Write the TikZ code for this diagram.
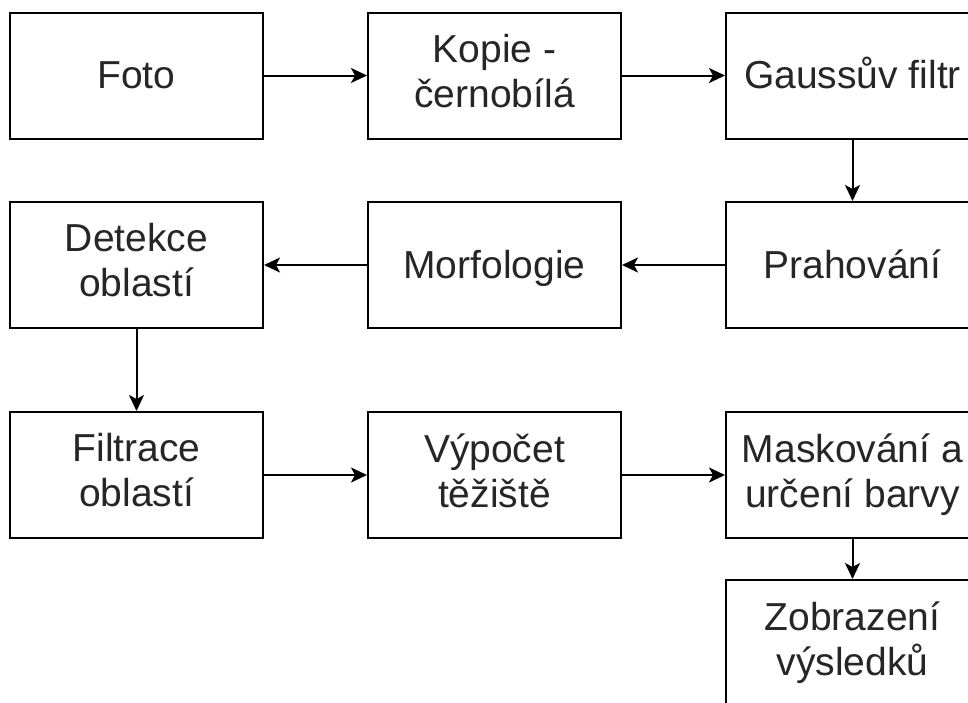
\documentclass[tikz,border=0pt]{standalone}
\usepackage{fontspec}
\setmainfont{Liberation Sans}
\usetikzlibrary{arrows.meta}
\newcommand{\mystrut}{\rule[-9.5pt]{0pt}{45pt}}
\begin{document}
\begin{tikzpicture}[x=1pt,y=-1pt,
  box/.style={draw, line width=2pt, minimum width=253pt, minimum height=126pt,
    align=center, inner sep=0pt, fill=white,
    font=\fontsize{39}{45}\selectfont, text=black!85,
    execute at begin node=\mystrut, execute at end node=\mystrut},
  conn/.style={line width=2pt, -{Stealth[length=16pt,width=15pt,inset=4pt]}}]
\useasboundingbox[fill=white] (0,0) rectangle (968,702);
\clip (0,0) rectangle (968,702);
\node[box] (foto) at (136.5,75.5) {Foto};
\node[box] (kopie) at (494.5,75.5) {Kopie -\\černobílá};
\node[box] (gauss) at (852.5,75.5) {Gaussův filtr};
\node[box] (detekce) at (136.5,265) {Detekce\\oblastí};
\node[box] (morf) at (494.5,265) {Morfologie};
\node[box] (prah) at (852.5,265) {Prahování};
\node[box] (filtr) at (136.5,475) {Filtrace\\oblastí};
\node[box] (vypocet) at (494.5,475) {Výpočet\\těžiště};
\node[box] (mask) at (852.5,475) {Maskování a\\určení barvy};
\node[box] (zobraz) at (852.5,643) {Zobrazení\\výsledků};
\draw[conn] (foto) -- (kopie);
\draw[conn] (kopie) -- (gauss);
\draw[conn] (gauss) -- (prah);
\draw[conn] (prah) -- (morf);
\draw[conn] (morf) -- (detekce);
\draw[conn] (detekce) -- (filtr);
\draw[conn] (filtr) -- (vypocet);
\draw[conn] (vypocet) -- (mask);
\draw[conn] (mask) -- (zobraz);
\end{tikzpicture}
\end{document}
